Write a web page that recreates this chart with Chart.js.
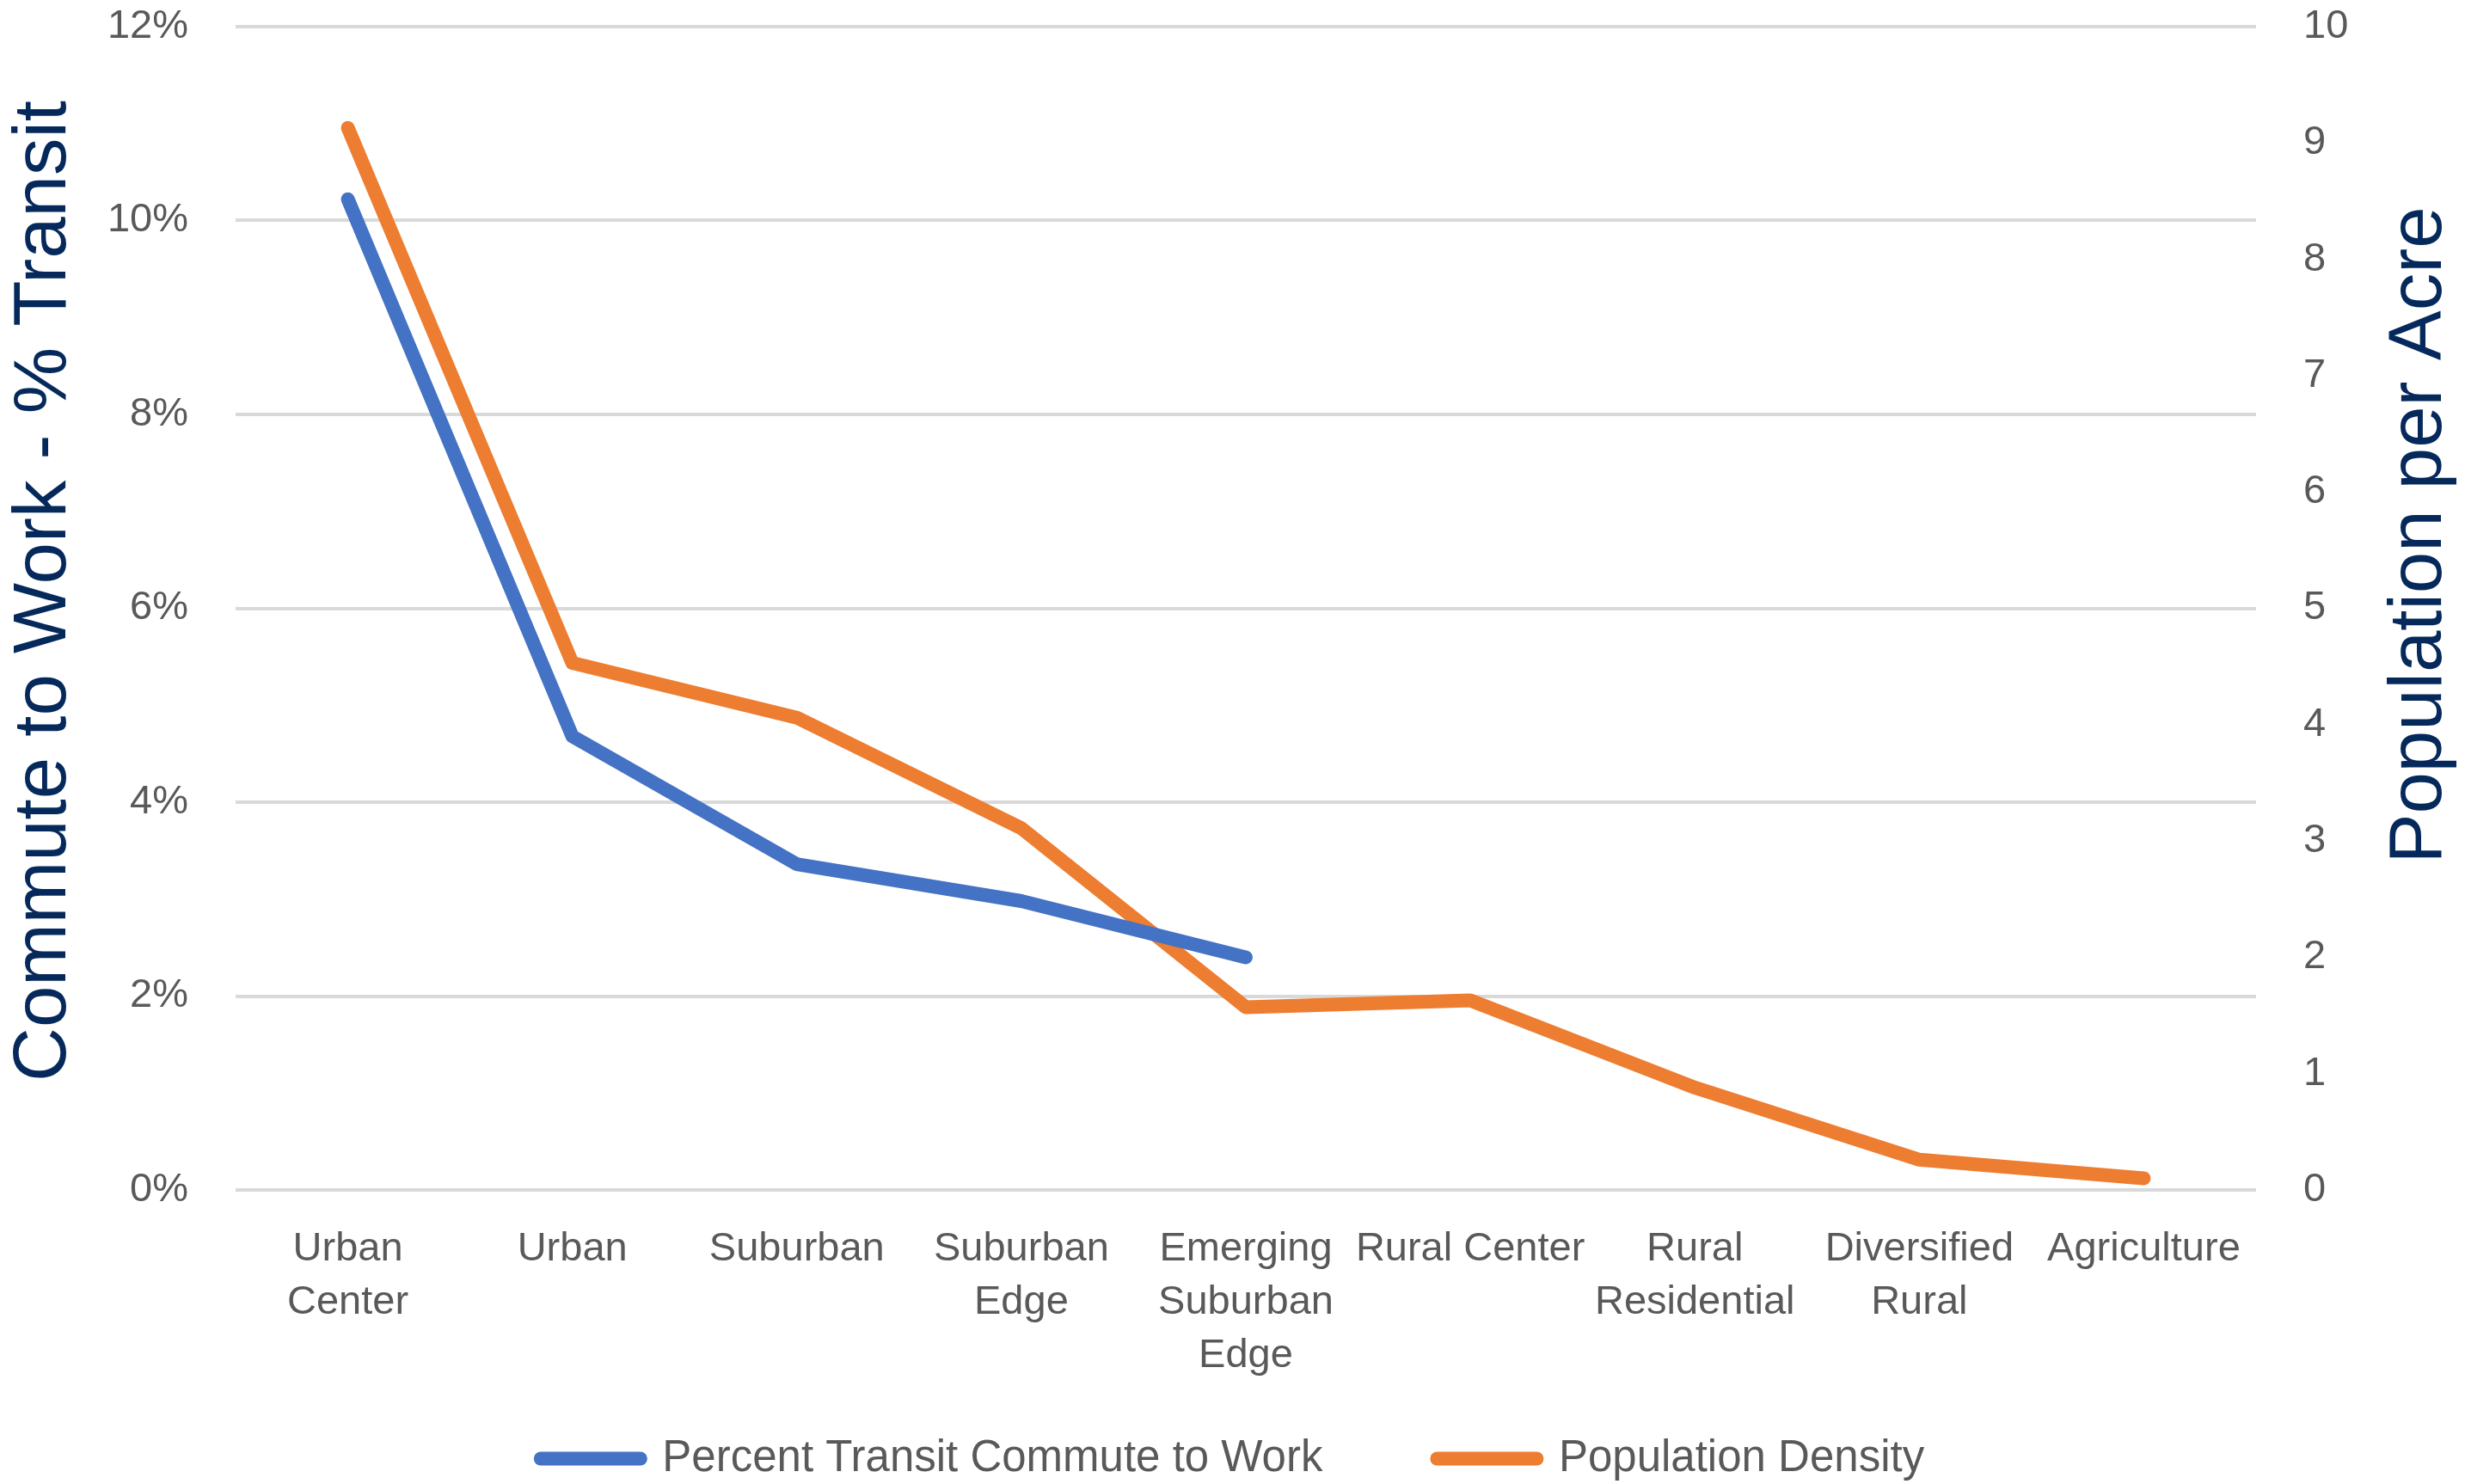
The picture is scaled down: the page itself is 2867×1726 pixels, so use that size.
<!DOCTYPE html>
<html lang="en">
<head>
    <meta charset="UTF-8">
    <title>Transit Commute vs Population Density</title>
    <script src="https://cdn.jsdelivr.net/npm/chart.js"></script>
    <style>
        html, body {
            margin: 0;
            padding: 0;
            background: #fff;
        }

        .chart-box {
            width: 2867px;
            height: 1726px;
        }
    </style>
</head>
<body>
    <div class="chart-box"><canvas id="densityChart"></canvas></div>

    <script>
        // Categories (multi-line labels as in the original)
        const categories = [
            ['Urban', 'Center'], 'Urban', 'Suburban', ['Suburban', 'Edge'],
            ['Emerging', 'Suburban', 'Edge'], 'Rural Center', ['Rural', 'Residential'],
            ['Diversified', 'Rural'], 'Agriculture'
        ];

        // Percent transit commute (share), only the first five types have data
        const transitShare = [0.1022, 0.0468, 0.0336, 0.0298, 0.0240, null, null, null, null];

        // Population per acre
        const popPerAcre = [9.13, 4.53, 4.06, 3.11, 1.57, 1.63, 0.88, 0.26, 0.10];

        // Tick labels
        const pctTickLabels = ['0%', '2%', '4%', '6%', '8%', '10%', '12%'];
        const densityTickLabels = ['0', '1', '2', '3', '4', '5', '6', '7', '8', '9', '10'];

        const tickFont = { family: "'Liberation Sans', Arial, sans-serif", size: 47, lineHeight: 1.32 };
        const titleFont = { family: "'Liberation Sans', Arial, sans-serif", size: 87 };
        const titleColor = '#06295B';

        // axis titles both read bottom-to-top, so draw them ourselves
        const axisTitles = {
            id: 'axisTitles',
            afterLayout(chart) {
                // let the 3-line x labels run past the axis box (they get clipped otherwise)
                chart.scales.x.bottom = chart.height;
            },
            afterDraw(chart) {
                const { ctx, chartArea } = chart;
                const mid = (chartArea.top + chartArea.bottom) / 2;
                const drawTitle = (text, x, y) => {
                    ctx.save();
                    ctx.font = `${titleFont.size}px ${titleFont.family}`;
                    ctx.fillStyle = titleColor;
                    ctx.textAlign = 'center';
                    ctx.textBaseline = 'middle';
                    ctx.translate(x, y);
                    ctx.rotate(-Math.PI / 2);
                    ctx.fillText(text, 0, 0);
                    ctx.restore();
                };
                drawTitle('Commute to Work - % Transit', 52, mid - 20);
                drawTitle('Population per Acre', chart.width - 52, mid - 85);
            }
        };

        // keep the tick padding from pushing the plot area down
        const noVertPadding = (scale, w) => {
            scale.width = w;
            scale.paddingTop = 0;
            scale.paddingBottom = 0;
        };

        new Chart(document.getElementById('densityChart'), {
            type: 'line',
            data: {
                labels: categories,
                datasets: [{
                    label: 'Percent Transit Commute to Work',
                    data: transitShare,
                    yAxisID: 'y',
                    borderColor: '#4472C4',
                    backgroundColor: '#4472C4',
                    borderWidth: 16,
                    borderCapStyle: 'round',
                    borderJoinStyle: 'round',
                    pointRadius: 0,
                    fill: false,
                    tension: 0
                }, {
                    label: 'Population Density',
                    data: popPerAcre,
                    yAxisID: 'y1',
                    borderColor: '#ED7D31',
                    backgroundColor: '#ED7D31',
                    borderWidth: 16,
                    borderCapStyle: 'round',
                    borderJoinStyle: 'round',
                    pointRadius: 0,
                    fill: false,
                    tension: 0
                }]
            },
            options: {
                responsive: true,
                maintainAspectRatio: false,
                devicePixelRatio: 1,
                animation: false,
                layout: { padding: { top: 31, bottom: -6 } },
                plugins: {
                    tooltip: { enabled: false },
                    legend: {
                        position: 'bottom',
                        labels: {
                            usePointStyle: true,
                            pointStyle: 'line',
                            pointStyleWidth: 116,
                            padding: 133,
                            color: '#595959',
                            font: { family: tickFont.family, size: 51 },
                            generateLabels: (chart) =>
                                Chart.defaults.plugins.legend.labels.generateLabels(chart)
                                    .map(item => ({ ...item, lineCap: 'round' }))
                        }
                    }
                },
                scales: {
                    x: {
                        offset: true,
                        grid: { display: false },
                        border: { display: false },
                        ticks: {
                            color: '#595959',
                            font: tickFont,
                            padding: 30,
                            maxRotation: 0,
                            autoSkip: false
                        },
                        afterFit(scale) { scale.height = 154; }
                    },
                    y: {
                        position: 'left',
                        min: 0,
                        max: 0.12,
                        border: { display: false },
                        grid: { color: '#D9D9D9', lineWidth: 4, drawTicks: false },
                        ticks: {
                            stepSize: 0.02,
                            color: '#595959',
                            font: tickFont,
                            padding: 55,
                            callback: (v, i) => pctTickLabels[i]
                        },
                        afterFit(scale) { noVertPadding(scale, 274); }
                    },
                    y1: {
                        position: 'right',
                        min: 0,
                        max: 10,
                        border: { display: false },
                        grid: { drawOnChartArea: false, drawTicks: false },
                        ticks: {
                            stepSize: 1,
                            color: '#595959',
                            font: tickFont,
                            padding: 55,
                            callback: (v, i) => densityTickLabels[i]
                        },
                        afterFit(scale) { noVertPadding(scale, 243); }
                    }
                }
            },
            plugins: [axisTitles]
        });
    </script>
</body>
</html>
